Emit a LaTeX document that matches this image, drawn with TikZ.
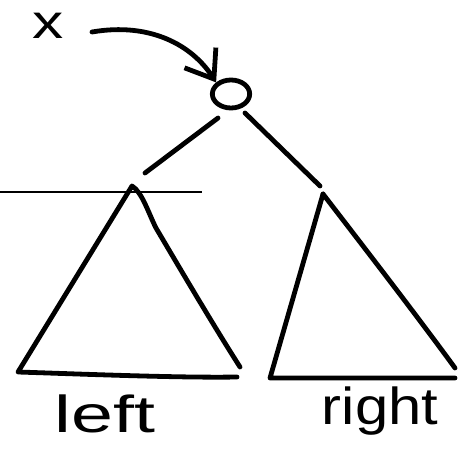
\documentclass[tikz,border=0pt]{standalone}
\usepackage{fontspec}
\setmainfont{Liberation Sans}
\usetikzlibrary{arrows.meta,shapes.geometric}
\begin{document}
\begin{tikzpicture}[x=0.75pt,y=-0.75pt,
  pen/.style={line width=3.6pt,line cap=round,line join=round},
  thinline/.style={line width=1pt},
  lbl/.style={inner sep=0pt,anchor=base,font=\fontsize{39}{44}\selectfont}]
\useasboundingbox (0,0) rectangle (459,452);
% text labels
\node[lbl,font=\fontsize{36}{40}\selectfont,text height=18pt] (x) at (48,39) {\scalebox{1.3}[1]{x}};
\node[lbl] (lt) at (105,432) {\scalebox{1.45}[1]{left}};
\node[lbl] (rt) at (380,424) {\scalebox{1.15}[1]{right}};
% root circle
\node[draw,pen,ellipse,inner sep=0pt,minimum width=28pt,minimum height=21pt] (r) at (231,94) {};
% arrow from x to root
\coordinate (as) at (92,32);
\draw[pen,-{Straight Barb[length=19pt,width=28pt,line width=3.6pt]}] (as) .. controls (150,22) and (192,45) .. (r.north west);
% tree edges
\coordinate (la) at (132,186);
\coordinate (ra) at (323,194);
\coordinate (le) at (145,173);
\coordinate (re) at (320,186);
\draw[pen] (218,118) -- (le);
\draw[pen] (245,113) -- (re);
% thin horizontal line
\coordinate (h1) at (0,192);
\coordinate (h2) at (202,192);
\draw[thinline] (h1) -- (h2);
% left triangle
\coordinate (lbl1) at (18,372);
\coordinate (lbr) at (240,367);
\draw[pen] (lbr) .. controls (210,320) and (175,260) .. (156,228) .. controls (148,212) and (142,192) .. (la) -- (lbl1) .. controls (80,374) and (180,378) .. (237,377);
% right triangle
\coordinate (rbl) at (270,378);
\coordinate (rbr) at (455,368);
\draw[pen] (ra) -- (rbl) -- (455,378);
\draw[pen] (ra) .. controls (370,255) and (420,320) .. (rbr);
\end{tikzpicture}
\end{document}
